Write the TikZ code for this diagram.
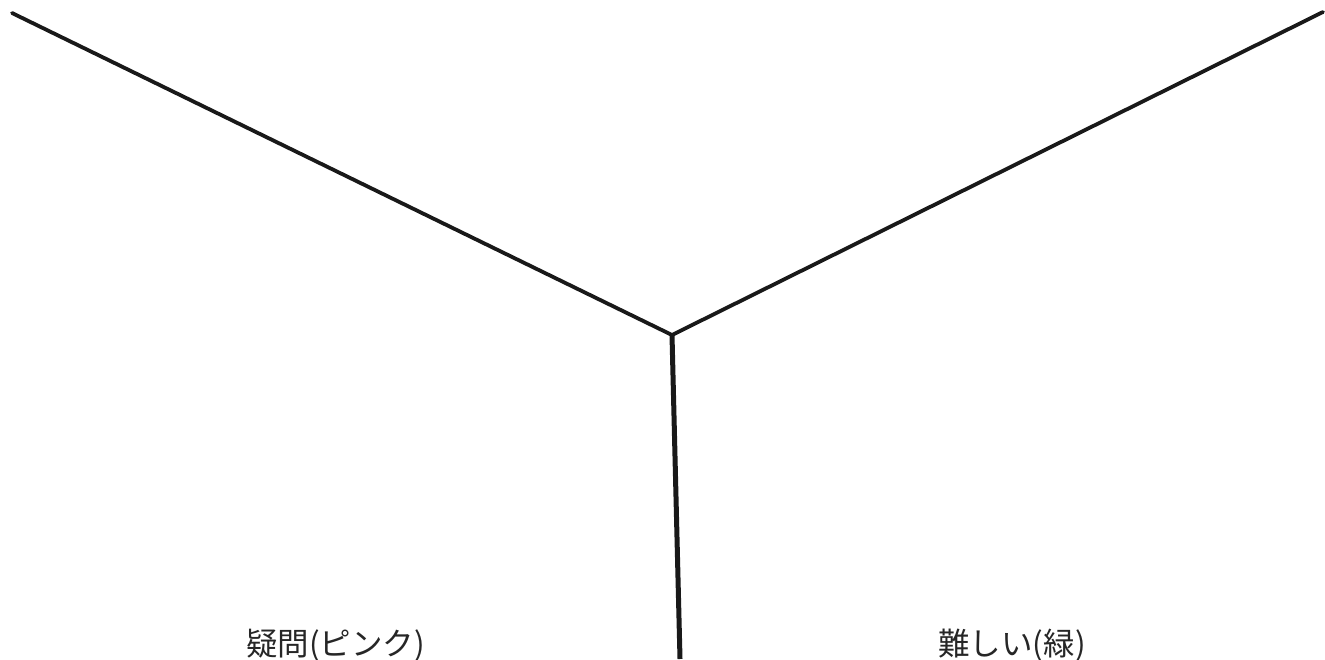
\documentclass[tikz,border=0pt]{standalone}
\usepackage{fontspec}
\newfontfamily\cjk{Noto Sans CJK JP}
\begin{document}
\begin{tikzpicture}[x=1pt,y=-1pt,
  edge/.style={draw=black!90, line width=3.8pt, line cap=round},
  stem/.style={draw=black!90, line width=5pt},
  lbl/.style={font=\cjk\fontsize{31.5}{34}\selectfont, text=black!85, inner sep=0pt, anchor=base}]
\useasboundingbox (0,0) rectangle (1325,660);
\coordinate (tl) at (12,13);
\coordinate (tr) at (1323,12);
\coordinate (c) at (672,335);
\coordinate (b) at (680,659);
\draw[edge] (tl) -- (c) -- (tr);
\draw[stem] (c) -- (b);
\node[lbl] (q) at (335.5,655) {疑問(ピンク)};
\node[lbl] (d) at (1012,655) {難しい(緑)};
\end{tikzpicture}
\end{document}
